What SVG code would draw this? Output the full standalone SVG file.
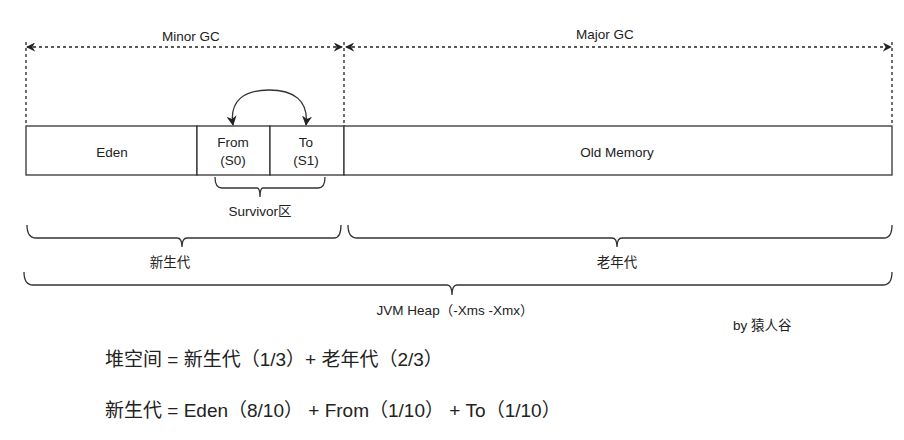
<svg xmlns="http://www.w3.org/2000/svg" width="904" height="440" viewBox="0 0 904 440">
<style>
text{font-family:"Liberation Sans","Noto Sans CJK SC",sans-serif;fill:#222}
.s{font-size:13.5px}
.f{font-size:19px}
.dash{stroke:#222;stroke-width:1.3;stroke-dasharray:3 3;fill:none}
.ln{stroke:#333;stroke-width:1.3;fill:none}
.box{stroke:#333;stroke-width:1.3;fill:#fff}
</style>
<defs>
<marker id="ah" viewBox="0 0 10 10" refX="9" refY="5" markerWidth="9" markerHeight="9" orient="auto-start-reverse" markerUnits="userSpaceOnUse">
<path d="M0,0 L10,5 L0,10 L3,5 z" fill="#222"/>
</marker>
<marker id="ah2" viewBox="0 0 10 10" refX="9" refY="5" markerWidth="10" markerHeight="10" orient="auto-start-reverse" markerUnits="userSpaceOnUse">
<path d="M0,0 L10,5 L0,10 L3,5 z" fill="#222"/>
</marker>
</defs>
<g id="connectors">
<line class="dash" x1="26" y1="42" x2="26" y2="126"/>
<line class="dash" x1="344" y1="42" x2="344" y2="126"/>
<line class="dash" x1="892" y1="42" x2="892" y2="126"/>
<line class="dash" x1="27" y1="47" x2="342" y2="47" marker-start="url(#ah)" marker-end="url(#ah)"/>
<line class="dash" x1="346" y1="47" x2="891" y2="47" marker-start="url(#ah)" marker-end="url(#ah)"/>
<path class="ln" d="M233,125 C229,100 245,90 269,90 C293,90 309,100 306,125" marker-start="url(#ah2)" marker-end="url(#ah2)"/>
</g>
<g id="minor-gc"><text class="s" x="191" y="41" text-anchor="middle">Minor GC</text></g>
<g id="major-gc"><text class="s" x="605" y="39" text-anchor="middle">Major GC</text></g>
<g id="eden"><rect class="box" x="26" y="126" width="171" height="49"/><text class="s" x="112" y="157" text-anchor="middle">Eden</text></g>
<g id="from"><rect class="box" x="197" y="126" width="73" height="49"/><text class="s" x="233" y="147" text-anchor="middle">From</text><text class="s" x="233" y="165" text-anchor="middle">(S0)</text></g>
<g id="to"><rect class="box" x="270" y="126" width="74" height="49"/><text class="s" x="306" y="147" text-anchor="middle">To</text><text class="s" x="306" y="165" text-anchor="middle">(S1)</text></g>
<g id="old"><rect class="box" x="344" y="126" width="548" height="49"/><text class="s" x="617" y="157" text-anchor="middle">Old Memory</text></g>
<g id="survivor">
<path class="ln" d="M215,177 Q215,188 222,188 L257,188 Q260,188 260,197 Q260,188 263,188 L318,188 Q325,188 325,177"/>
<text class="s" x="260" y="216" text-anchor="middle">Survivor区</text>
</g>
<g id="young">
<path class="ln" d="M27,225 Q27,238 36,238 L177,238 Q182,238 182,247 Q182,238 187,238 L334,238 Q341,238 341,225"/>
<text class="s" x="170" y="267" text-anchor="middle">新生代</text>
</g>
<g id="oldgen">
<path class="ln" d="M348,225 Q348,238 357,238 L612,238 Q617,238 617,247 Q617,238 622,238 L884,238 Q892,238 892,225"/>
<text class="s" x="617" y="267" text-anchor="middle">老年代</text>
</g>
<g id="heap">
<path class="ln" d="M24,272 Q24,285 33,285 L447,285 Q452,285 452,295 Q452,285 457,285 L883,285 Q892,285 892,272"/>
<text class="s" x="455" y="315" text-anchor="middle">JVM Heap（-Xms -Xmx）</text>
</g>
<g id="by"><text class="s" x="733" y="330">by 猿人谷</text></g>
<g id="formula1"><text class="f" x="105" y="366">堆空间 = 新生代（1/3）+ 老年代（2/3）</text></g>
<g id="formula2"><text class="f" x="105" y="417">新生代 = Eden（8/10） + From（1/10） + To（1/10）</text></g>
</svg>
